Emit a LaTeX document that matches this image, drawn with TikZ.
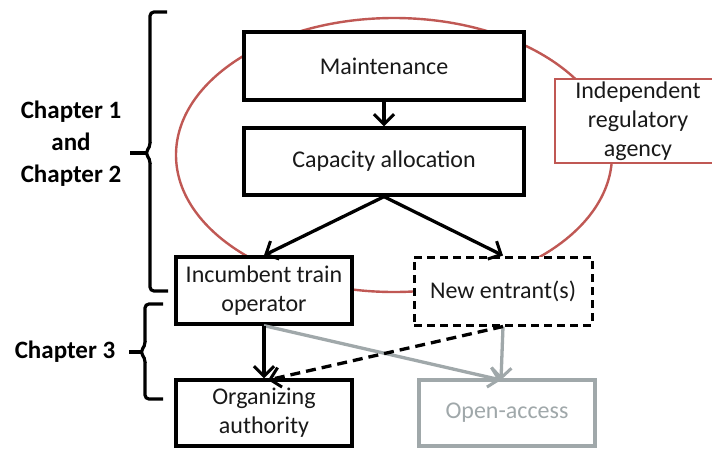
\documentclass[tikz,border=0pt]{standalone}
\usepackage{fontspec}
\setmainfont{Carlito}
\usetikzlibrary{arrows.meta,calc}
\definecolor{ellred}{RGB}{192,88,84}
\definecolor{grayline}{RGB}{160,168,170}
\definecolor{txt}{RGB}{25,25,25}
\begin{document}
\begin{tikzpicture}[x=1pt,y=-1pt,
  box/.style={draw=black,line width=3.3pt,fill=white,inner sep=0pt,align=center,
    font=\fontsize{24}{29}\selectfont,text=txt},
  dbox/.style={box,line width=3pt,dash pattern=on 8pt off 5pt},
  gbox/.style={box,draw=grayline,text=grayline},
  rbox/.style={box,draw=ellred,line width=2.4pt},
  arr/.style={line width=3.3pt,-{Straight Barb[length=10pt,width=20pt,line width=3pt]}},
  brace/.style={line width=3.2pt,rounded corners=4pt},
  chap/.style={font=\fontsize{25}{32}\selectfont\bfseries,align=center,text=black}]
\useasboundingbox (0,0) rectangle (712,448);
\fill[white] (0,0) rectangle (712,448);
% ellipse
\draw[ellred,line width=2.4pt] (394,155) ellipse [x radius=218,y radius=137];
% boxes
\node[box,minimum width=280,minimum height=68] (maint) at (384,66) {Maintenance};
\node[box,minimum width=280,minimum height=67] (cap) at (384,161.5) {Capacity allocation};
\node[rbox,minimum width=166,minimum height=84] (agency) at (638,121) {Independent\\regulatory\\agency};
\node[box,minimum width=176,minimum height=67] (inc) at (264,290.5) {Incumbent train\\operator};
\node[dbox,minimum width=178,minimum height=68] (new) at (503,291) {New entrant(s)};
\node[box,minimum width=176,minimum height=66] (org) at (264,413) {Organizing\\authority};
\node[gbox,minimum width=176,minimum height=66] (open) at (507,413) {Open-access};
\coordinate (opentip) at (501,380);
\coordinate (orgtip) at (268,380);
% arrows
\draw[arr] (maint) -- (cap);
\draw[arr] (cap.south) -- (inc.north);
\draw[arr] (cap.south) -- (new.north);
\draw[arr,grayline] (inc.south) -- (opentip);
\draw[arr,grayline] (new.south) -- (opentip);
\draw[arr] (inc.south) -- (inc.south |- org.north);
\draw[arr,dash pattern=on 10pt off 6pt] (new.south) -- (orgtip);
% braces
\coordinate (b1t) at (167,12);
\coordinate (b1b) at (168,291);
\coordinate (b1m) at (130,153);
\draw[brace] (b1t) -- (150,12) -- (150,147) -- (145,153) -- (150,159) -- (150,291) -- (b1b);
\draw[line width=3.2pt] (146,153) -- (b1m);
\coordinate (b3t) at (163,304);
\coordinate (b3b) at (163,399);
\coordinate (b3m) at (129,352);
\draw[brace] (b3t) -- (145,304) -- (145,346) -- (140,352) -- (145,358) -- (145,399) -- (b3b);
\draw[line width=3.2pt] (141,352) -- (b3m);
\node[chap] (ch12) at (71,144) {Chapter 1\\and\\Chapter 2};
\node[chap] (ch3) at (65,352) {Chapter 3};
\end{tikzpicture}
\end{document}
